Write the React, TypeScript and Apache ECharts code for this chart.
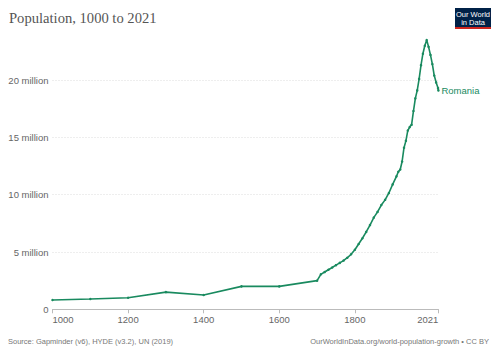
import React, { useEffect, useRef } from "react";
import * as echarts from "echarts";

const years = [
  1000, 1100, 1200, 1300, 1400, 1500, 1600, 1700, 1710, 1720, 1730, 1740, 1750,
  1760, 1770, 1780, 1790, 1800, 1810, 1820, 1830, 1840, 1850, 1860, 1870, 1880,
  1890, 1900, 1910, 1915, 1920, 1925, 1930, 1935, 1940, 1945, 1950, 1955, 1960,
  1965, 1970, 1975, 1980, 1985, 1990, 1995, 2000, 2005, 2010, 2015, 2020, 2021,
];
// population in millions
const romania = [
  0.81, 0.9, 1.01, 1.5, 1.25, 2.0, 2.0, 2.5, 3.05, 3.25, 3.45, 3.65, 3.85,
  4.05, 4.25, 4.5, 4.8, 5.2, 5.7, 6.2, 6.75, 7.35, 8.0, 8.5, 9.1, 9.55,
  10.15, 10.9, 11.6, 12.0, 12.2, 12.9, 14.1, 14.7, 15.6, 15.9, 16.1, 17.3, 18.4,
  19.1, 20.1, 21.3, 22.3, 23.0, 23.5, 22.9, 22.2, 21.4, 20.4, 19.8, 19.3, 19.1,
];
const xTicks = [1000, 1200, 1400, 1600, 1800, 2021];
const seriesName = "Romania";
const titleText = "Population, 1000 to 2021";
const sourceText = "Source: Gapminder (v6), HYDE (v3.2), UN (2019)";
const urlText = "OurWorldInData.org/world-population-growth • CC BY";

const GREEN = "#198a5f";
const SANS = "'Liberation Sans', Arial, sans-serif";

export default function App() {
  const ref = useRef<HTMLDivElement>(null);
  useEffect(() => {
    if (!ref.current) return;
    const chart = echarts.init(ref.current, null, { renderer: "svg" });
    chart.setOption({
      animation: false,
      backgroundColor: "#ffffff",
      title: {
        text: titleText,
        left: 4,
        top: 5,
        textStyle: {
          fontFamily: "'Liberation Serif', 'DejaVu Serif', serif",
          fontSize: 14.6,
          fontWeight: "normal",
          color: "#555555",
        },
      },
      grid: { left: 52.5, right: 61.6, top: 22.8, bottom: 43.7 },
      xAxis: {
        type: "value",
        min: 1000,
        max: 2021,
        interval: 200,
        axisLine: { show: true, lineStyle: { color: "#bbbbbb", width: 1 } },
        axisTick: {
          show: true,
          length: 4,
          customValues: xTicks,
          lineStyle: { color: "#bbbbbb" },
        },
        axisLabel: {
          customValues: xTicks,
          alignMinLabel: "left",
          alignMaxLabel: "right",
          color: "#666666",
          fontFamily: SANS,
          fontSize: 9.5,
          margin: 5,
          formatter: (v: number) => String(v),
        },
        splitLine: { show: false },
      },
      yAxis: {
        type: "value",
        min: 0,
        max: 25,
        interval: 5,
        axisLine: { show: false },
        axisTick: { show: false },
        axisLabel: {
          showMaxLabel: false,
          color: "#666666",
          fontFamily: SANS,
          fontSize: 9.5,
          margin: 4,
          formatter: (v: number) => (v === 0 ? "0" : `${v} million`),
        },
        splitLine: {
          show: true,
          showMaxLine: false,
          lineStyle: { color: "#dddddd", type: [1, 2], width: 1 },
        },
      },
      series: [
        {
          name: seriesName,
          type: "line",
          data: years.map((y, i) => [y, romania[i]]),
          showSymbol: true,
          symbol: "circle",
          symbolSize: 2.5,
          lineStyle: { color: GREEN, width: 1.6 },
          itemStyle: { color: GREEN },
          endLabel: {
            show: true,
            formatter: seriesName,
            color: GREEN,
            fontFamily: SANS,
            fontSize: 9.5,
            distance: 3,
          },
        },
      ],
      graphic: [
        {
          type: "rect",
          shape: { x: 455, y: 8, width: 36, height: 21 },
          style: { fill: "#002147" },
        },
        {
          type: "rect",
          shape: { x: 455, y: 27, width: 36, height: 2 },
          style: { fill: "#ce261e" },
        },
        {
          type: "text",
          x: 473,
          y: 14.5,
          style: {
            text: "Our World",
            fill: "#ffffff",
            font: `7.5px ${SANS}`,
            align: "center",
            verticalAlign: "middle",
          },
        },
        {
          type: "text",
          x: 473,
          y: 22,
          style: {
            text: "in Data",
            fill: "#ffffff",
            font: `7.5px ${SANS}`,
            align: "center",
            verticalAlign: "middle",
          },
        },
        {
          type: "text",
          x: 8,
          y: 341.5,
          style: {
            text: sourceText,
            fill: "#777777",
            font: `7.5px ${SANS}`,
            align: "left",
            verticalAlign: "middle",
          },
        },
        {
          type: "text",
          x: 489,
          y: 341.5,
          style: {
            text: urlText,
            fill: "#777777",
            font: `7.5px ${SANS}`,
            align: "right",
            verticalAlign: "middle",
          },
        },
      ],
    });
    return () => chart.dispose();
  }, []);
  return (
    <div
      ref={ref}
      style={{ position: "fixed", left: 0, top: 0, width: 500, height: 353 }}
    />
  );
}
